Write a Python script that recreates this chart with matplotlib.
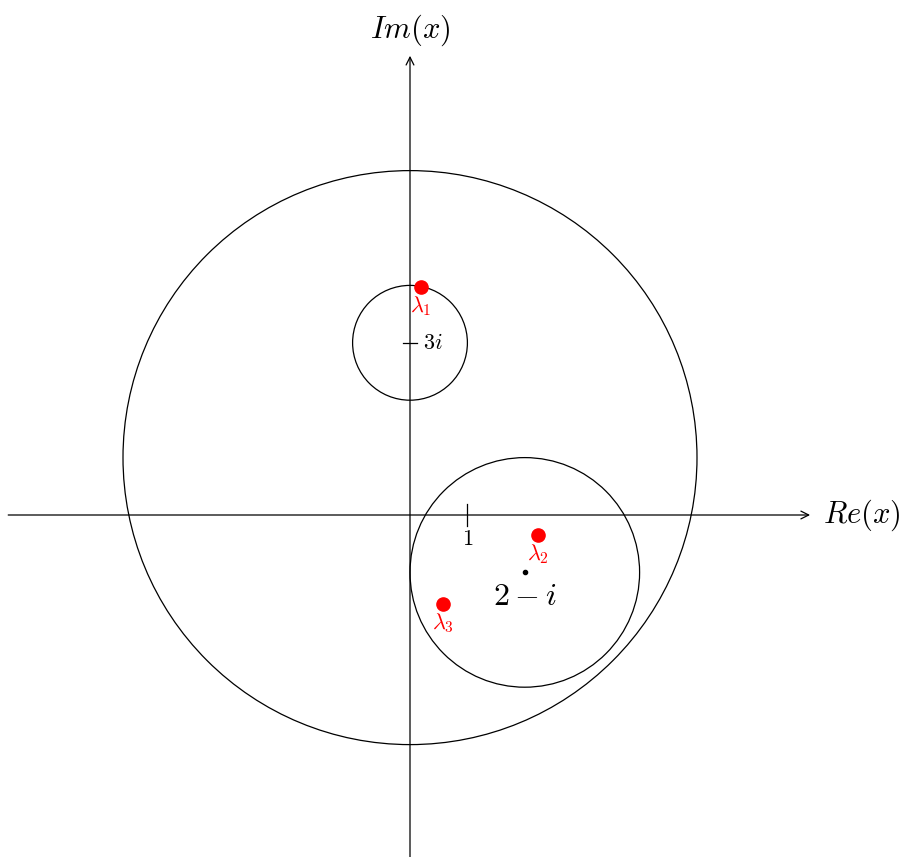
import matplotlib
matplotlib.use("Agg")
import matplotlib.pyplot as plt
from matplotlib.patches import Circle

plt.rcParams['mathtext.fontset'] = 'cm'
plt.rcParams['font.family'] = 'serif'
plt.rcParams['font.serif'] = ['DejaVu Serif']

# Gershgorin discs: centre (re, im) and radius
disc_re = [0.0, 2.0, 0.0]
disc_im = [3.0, -1.0, 1.0]
disc_r = [1.0, 2.0, 5.0]

# eigenvalues
eig_re = [0.19, 2.23, 0.57]
eig_im = [3.98, -0.35, -1.55]
eig_labels = [r'$\lambda_1$', r'$\lambda_2$', r'$\lambda_3$']

s = 57.4  # px per unit
ox, oy = 410, 515
W, H = 902, 857

fig = plt.figure(figsize=(W / 100, H / 100), dpi=100)
ax = fig.add_axes([0, 0, 1, 1])
ax.set_xlim(-ox / s, (W - ox) / s)
ax.set_ylim(-(H - oy) / s, oy / s)
ax.set_aspect('equal')
ax.axis('off')

lw = 0.9

# axes with open arrowheads
ax.annotate('', xy=(6.97, 0), xytext=(-7.0, 0),
            arrowprops=dict(arrowstyle='->', lw=lw, color='black', shrinkA=0, shrinkB=0,
                            mutation_scale=14))
ax.annotate('', xy=(0, 8.0), xytext=(0, -6.2),
            arrowprops=dict(arrowstyle='->', lw=lw, color='black', shrinkA=0, shrinkB=0,
                            mutation_scale=14))
ax.text(7.2, 0, r'$Re(x)$', fontsize=22, ha='left', va='center')
ax.text(0, 8.45, r'$Im(x)$', fontsize=22, ha='center', va='center')

# ticks
ax.plot([1, 1], [-0.2, 0.2], color='black', lw=lw)
ax.text(1, -0.22, r'$1$', fontsize=16, ha='center', va='top')
ax.plot([-0.12, 0.12], [3, 3], color='black', lw=lw)
ax.text(0.22, 3, r'$3i$', fontsize=16, ha='left', va='center')

for cx, cy, r in zip(disc_re, disc_im, disc_r):
    ax.add_patch(Circle((cx, cy), r, fill=False, edgecolor='black', lw=lw))

# centre of the second disc
ax.plot([disc_re[1]], [disc_im[1]], 'o', color='black', ms=3)
ax.text(disc_re[1], disc_im[1] - 0.42, r'$2-i$', fontsize=23, ha='center', va='center')

for x, y, lab in zip(eig_re, eig_im, eig_labels):
    ax.plot([x], [y], 'o', color='red', ms=9.5)
    ax.text(x, y - 0.13, lab, fontsize=16, color='red', ha='center', va='top')

fig.savefig('out.png', dpi=100)
